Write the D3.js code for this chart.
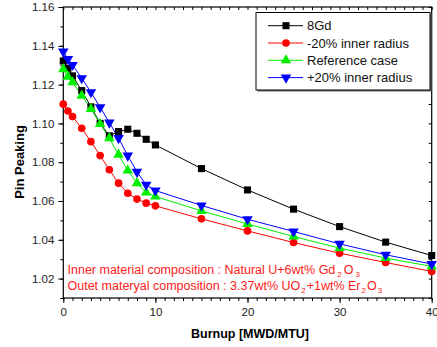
<!DOCTYPE html>
<html>
<head>
<meta charset="utf-8">
<script src="https://cdn.jsdelivr.net/npm/d3@7"></script>
<style>
  body { margin: 0; background: #fff; }
  svg { font-family: "Liberation Sans", Arial, sans-serif; }
</style>
</head>
<body>
<div id="chart"></div>
<script>
// burnup steps (MWD/MTU)
const burnup = [0, 0.5, 1, 2, 3, 4, 5, 6, 7, 8, 9, 10, 15, 20, 25, 30, 35, 40];

const gd8 = [1.1322, 1.1284, 1.1245, 1.1169, 1.1085, 1.1000, 1.0936, 1.0958, 1.0970, 1.0949,
             1.0918, 1.0889, 1.0767, 1.0657, 1.0558, 1.0468, 1.0388, 1.0319];
const minus20 = [1.1099, 1.1064, 1.1035, 1.0975, 1.0906, 1.0834, 1.0761, 1.0692, 1.0640, 1.0610,
                 1.0589, 1.0575, 1.0508, 1.0446, 1.0386, 1.0331, 1.0283, 1.0237];
const refCase = [1.1279, 1.1241, 1.1212, 1.1143, 1.1075, 1.0997, 1.0924, 1.0839, 1.0757, 1.0692,
                 1.0644, 1.0623, 1.0549, 1.0482, 1.0417, 1.0357, 1.0306, 1.0263];
const plus20 = [1.1370, 1.1332, 1.1301, 1.1233, 1.1161, 1.1083, 1.1004, 1.0924, 1.0834, 1.0750,
                1.0683, 1.0654, 1.0577, 1.0506, 1.0443, 1.0379, 1.0323, 1.0275];

const seriesNames = ["8Gd", "-20% inner radius", "Reference case", "+20% inner radius"];
const xTicks = [0, 10, 20, 30, 40];
const yTicks = [1.02, 1.04, 1.06, 1.08, 1.10, 1.12, 1.14, 1.16];

const series = [
  { name: seriesNames[0], values: gd8, color: "#000000", symbol: d3.symbolSquare, size: 50, rot: 0 },
  { name: seriesNames[1], values: minus20, color: "#ff0000", symbol: d3.symbolCircle, size: 46, rot: 0 },
  { name: seriesNames[2], values: refCase, color: "#00f000", symbol: d3.symbolTriangle, size: 48, rot: 0 },
  { name: seriesNames[3], values: plus20, color: "#0000ff", symbol: d3.symbolTriangle, size: 48, rot: 180 }
];

const width = 437, height = 347;
const margin = { top: 7, right: 5.3, bottom: 49, left: 63.3 };
const innerW = width - margin.left - margin.right;
const innerH = height - margin.top - margin.bottom;

const svg = d3.select("#chart").append("svg")
    .attr("width", width)
    .attr("height", height);

const g = svg.append("g")
    .attr("transform", `translate(${margin.left},${margin.top})`);

const x = d3.scaleLinear().domain([0, 40]).range([0, innerW]);
const y = d3.scaleLinear().domain([1.01, 1.16]).range([innerH, 0]);

// minor ticks
const xMinor = d3.range(0, 41, 1);
const yMinor = d3.range(1.01, 1.1601, 0.01).map(v => +v.toFixed(2));

function styleAxis(sel) {
    sel.select(".domain").remove();
    sel.selectAll("line").attr("stroke", "#000").attr("stroke-width", 1);
    sel.selectAll("text").attr("fill", "#222").style("font-size", "11.5px");
}

// bottom axis: minor then major
g.append("g").attr("transform", `translate(0,${innerH})`)
    .call(d3.axisBottom(x).tickValues(xMinor).tickSize(3).tickFormat(""))
    .call(styleAxis);
g.append("g").attr("transform", `translate(0,${innerH})`)
    .call(d3.axisBottom(x).tickValues(xTicks).tickSize(5).tickPadding(5).tickFormat(d3.format("d")))
    .call(styleAxis);

// left axis
g.append("g")
    .call(d3.axisLeft(y).tickValues(yMinor).tickSize(3).tickFormat(""))
    .call(styleAxis);
g.append("g")
    .call(d3.axisLeft(y).tickValues(yTicks).tickSize(5).tickPadding(4).tickFormat(d3.format(".2f")))
    .call(styleAxis);

// top and right mirror ticks (inward)
g.append("g")
    .call(d3.axisBottom(x).tickValues(xMinor).tickSize(3).tickFormat(""))
    .call(styleAxis);
g.append("g").attr("transform", `translate(${innerW},0)`)
    .call(d3.axisLeft(y).tickValues(yMinor).tickSize(3).tickFormat(""))
    .call(styleAxis);

// frame
g.append("rect")
    .attr("width", innerW)
    .attr("height", innerH)
    .attr("fill", "none")
    .attr("stroke", "#000")
    .attr("stroke-width", 1.2);

const line = d3.line()
    .x((d, i) => x(burnup[i]))
    .y(d => y(d));

series.forEach(s => {
    g.append("path")
        .datum(s.values)
        .attr("fill", "none")
        .attr("stroke", s.color)
        .attr("stroke-width", 1)
        .attr("d", line);
});

series.forEach(s => {
    g.selectAll(null)
        .data(s.values)
        .enter()
        .append("path")
        .attr("d", d3.symbol().type(s.symbol).size(s.size))
        .attr("transform", (d, i) => `translate(${x(burnup[i])},${y(d)}) rotate(${s.rot})`)
        .attr("fill", s.color);
});

// legend (with a thin shadow like the original)
const legend = svg.append("g").attr("transform", "translate(256,12.5)");
legend.append("rect")
    .attr("x", 1.5).attr("y", 1.5)
    .attr("width", 174)
    .attr("height", 77.5)
    .attr("fill", "#666");
legend.append("rect")
    .attr("width", 174)
    .attr("height", 77.5)
    .attr("fill", "#fff")
    .attr("stroke", "#000")
    .attr("stroke-width", 1);

series.forEach((s, i) => {
    const ly = 13.2 + i * 17.3;
    legend.append("line")
        .attr("x1", 12).attr("x2", 47)
        .attr("y1", ly).attr("y2", ly)
        .attr("stroke", s.color)
        .attr("stroke-width", 1);
    legend.append("path")
        .attr("d", d3.symbol().type(s.symbol).size(s.size))
        .attr("transform", `translate(30,${ly}) rotate(${s.rot})`)
        .attr("fill", s.color);
    legend.append("text")
        .attr("x", 51)
        .attr("y", ly + 4.6)
        .style("font-size", "13px")
        .attr("fill", "#111")
        .text(s.name);
});

// composition notes
const note = svg.append("g").attr("fill", "#ff1a1a").style("font-size", "12.5px");
const t1 = note.append("text").attr("x", 67.5).attr("y", 273.5);
t1.append("tspan").text("Inner material composition : Natural U+6wt% Gd");
t1.append("tspan").text("2").style("font-size", "8px").attr("dy", 3).attr("dx", 2);
t1.append("tspan").text("O").attr("dy", -3).attr("dx", 2);
t1.append("tspan").text("3").style("font-size", "8px").attr("dy", 3).attr("dx", 2);

const t2 = note.append("text").attr("x", 67.5).attr("y", 290);
t2.append("tspan").text("Outet materyal composition : 3.37wt% UO");
t2.append("tspan").text("2").style("font-size", "8px").attr("dy", 3).attr("dx", 1);
t2.append("tspan").text("+1wt% Er").attr("dy", -3).attr("dx", 1);
t2.append("tspan").text("2").style("font-size", "8px").attr("dy", 3).attr("dx", 1);
t2.append("tspan").text("O").attr("dy", -3).attr("dx", 1);
t2.append("tspan").text("3").style("font-size", "8px").attr("dy", 3).attr("dx", 1);

// axis titles
svg.append("text")
    .attr("x", 250)
    .attr("y", 338)
    .attr("text-anchor", "middle")
    .style("font-size", "12.5px")
    .style("font-weight", "bold")
    .text("Burnup [MWD/MTU]");

svg.append("text")
    .attr("transform", "translate(24,162) rotate(-90)")
    .attr("text-anchor", "middle")
    .style("font-size", "13px")
    .style("font-weight", "bold")
    .text("Pin Peaking");
</script>
</body>
</html>
